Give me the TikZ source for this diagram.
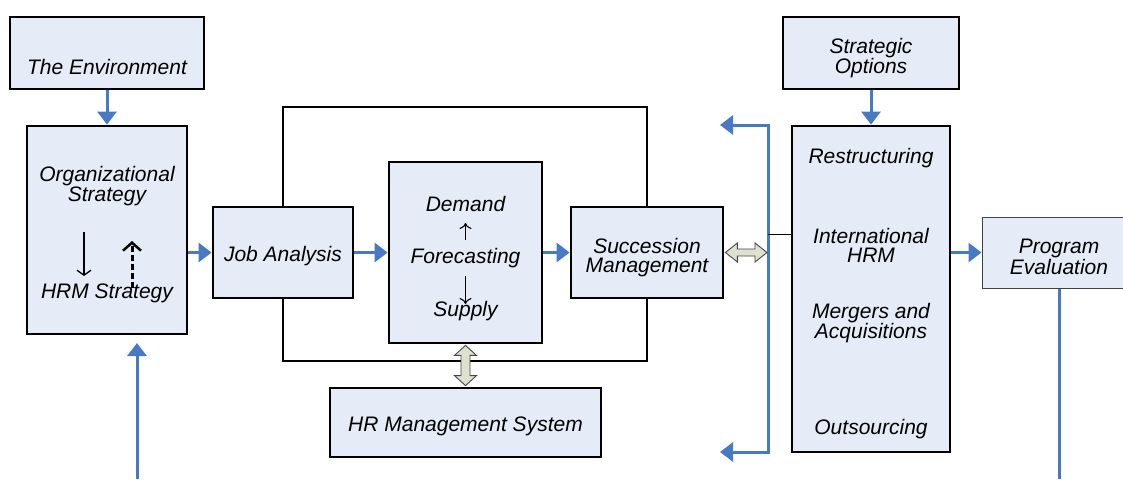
\documentclass[tikz,border=0pt]{standalone}
\usepackage{fontspec}
\setmainfont{Liberation Sans}
\usetikzlibrary{arrows.meta,calc}
\definecolor{boxfill}{RGB}{230,236,247}
\definecolor{lineblue}{RGB}{72,122,196}
\definecolor{hollowfill}{RGB}{222,226,205}
\definecolor{hollowline}{RGB}{70,70,70}
\tikzset{
  box/.style={draw=black, line width=2.8pt, fill=boxfill, inner sep=0pt},
  thinbox/.style={draw=black!75, line width=1pt, fill=boxfill, inner sep=0pt},
  txt/.style={inner sep=0pt, align=center, font=\fontsize{21}{19}\selectfont\itshape},
  barrow/.style={draw=lineblue, line width=3pt, -{Triangle[length=13pt,width=19pt]}},
  bline/.style={draw=lineblue, line width=3pt},
  frame/.style={draw=black, line width=2.8pt},
  hollow/.style={draw=hollowline, line width=0.9pt, fill=hollowfill, line join=miter},
  smallarrow/.style={draw=black, line width=1.1pt, -{To[length=6pt,width=12pt]}}
}
\begin{document}
\begin{tikzpicture}[x=1pt,y=-1pt]
\useasboundingbox (0,0) rectangle (1123,479);

% boxes
\node[box, minimum width=194pt, minimum height=72pt] (env) at (107,53) {};
\node[txt] (envt) at (107,67) {The Environment};

\node[box, minimum width=160pt, minimum height=208pt] (org) at (107,230) {};
\node[txt] (orgt) at (107,186) {Organizational\\Strategy};
\node[txt] (hrmt) at (107,293) {HRM Strategy};

\node[box, minimum width=140pt, minimum height=91pt] (ja) at (283,252.5) {};
\node[txt] (jat) at (283,256) {Job Analysis};

\node[box, minimum width=153pt, minimum height=181pt] (fc) at (465.5,252.5) {};
\node[txt] (dem) at (465.5,204) {Demand};
\node[txt] (fct) at (465.5,258) {Forecasting};
\node[txt] (sup) at (465.5,311) {Supply};

\node[box, minimum width=152pt, minimum height=91pt] (succ) at (647,252.5) {};
\node[txt] (succt) at (647,258) {Succession\\Management};

\node[box, minimum width=271pt, minimum height=69pt] (hrms) at (465.5,422.5) {};
\node[txt] (hrmst) at (465.5,426) {HR Management System};

\node[box, minimum width=176pt, minimum height=72pt] (so) at (871,53) {};
\node[txt] (sot) at (871,58) {Strategic\\Options};

\node[box, minimum width=158pt, minimum height=326pt] (rb) at (871,289) {};
\node[txt] (r1) at (871,158) {Restructuring};
\node[txt] (r2) at (871,245) {International\\HRM};
\node[txt] (r3) at (871,323) {Mergers and\\Acquisitions};
\node[txt] (r4) at (871,429) {Outsourcing};

\node[thinbox, minimum width=154pt, minimum height=71pt] (pe) at (1059,252.5) {};
\node[txt] (pet) at (1059,257) {Program\\Evaluation};

% outer frame connecting Job Analysis and Succession Management
\draw[frame] (ja.north) |- (465,107) -| (succ.north);
\draw[frame] (ja.south) |- (465,361) -| (succ.south);

% blue arrows
\draw[barrow] (env.south) -- (org.north);
\draw[barrow] (so.south) -- (rb.north);
\draw[barrow] (org.east |- ja.west) -- (ja.west);
\draw[barrow] (ja.east) -- (fc.west);
\draw[barrow] (fc.east) -- (succ.west);
\draw[barrow] (rb.east |- pe.west) -- (pe.west);

\coordinate (bin) at (137,479);
\draw[barrow] (bin) -- (137,343);

\coordinate (pout) at (1059,479);
\draw[bline] (pe.south) -- (pout);

% bracket
\coordinate (bt) at (768,125);
\coordinate (bb) at (768,452);
\coordinate (tl) at (720,125);
\coordinate (bl) at (720,452);
\draw[draw=lineblue, line width=3pt, line join=miter, {Triangle[length=13pt,width=19pt]}-{Triangle[length=13pt,width=19pt]}] (tl) -- (bt) -- (bb) -- (bl);

\coordinate (bj) at (768,234);
\draw[black, line width=1pt] (bj) -- (rb.west |- bj);

% hollow double arrows
\coordinate (bm) at (767,252.5);
\path let \p1=(succ.east), \p2=(bm) in
  [hollow] (\x1+1pt,\y1) -- (\x1+13pt,\y1+9.5pt) -- (\x1+13pt,\y1+3.5pt) -- (\x2-12pt,\y1+3.5pt)
  -- (\x2-12pt,\y1+9.5pt) -- (\x2,\y1) -- (\x2-12pt,\y1-9.5pt) -- (\x2-12pt,\y1-3.5pt)
  -- (\x1+13pt,\y1-3.5pt) -- (\x1+13pt,\y1-9.5pt) -- cycle;
\path let \p1=(fc.south), \p2=(hrms.north) in
  [hollow] (\x1,\y1-1pt) -- (\x1+11pt,\y1-11pt) -- (\x1+4.5pt,\y1-11pt) -- (\x1+4.5pt,\y2+11pt)
  -- (\x1+11pt,\y2+11pt) -- (\x1,\y2+1pt) -- (\x1-11pt,\y2+11pt) -- (\x1-4.5pt,\y2+11pt)
  -- (\x1-4.5pt,\y1-11pt) -- (\x1-11pt,\y1-11pt) -- cycle;

% small arrows inside boxes
\coordinate (oa1) at (84,232); \coordinate (oa2) at (84,276);
\draw[black, line width=1.3pt, -{Straight Barb[length=5pt,width=14pt]}] (oa1) -- (oa2);
\coordinate (ob1) at (132,288); \coordinate (ob2) at (132,241);
\draw[black, line width=3pt, dash pattern=on 6pt off 3pt, -{Straight Barb[length=8pt,width=18pt,line width=2.5pt]}] (ob1) -- (ob2);

\coordinate (fa1) at (465.5,240); \coordinate (fa2) at (465.5,223);
\draw[smallarrow] (fa1) -- (fa2);
\coordinate (fb1) at (465.5,276); \coordinate (fb2) at (465.5,304);
\draw[smallarrow] (fb1) -- (fb2);
\end{tikzpicture}
\end{document}
